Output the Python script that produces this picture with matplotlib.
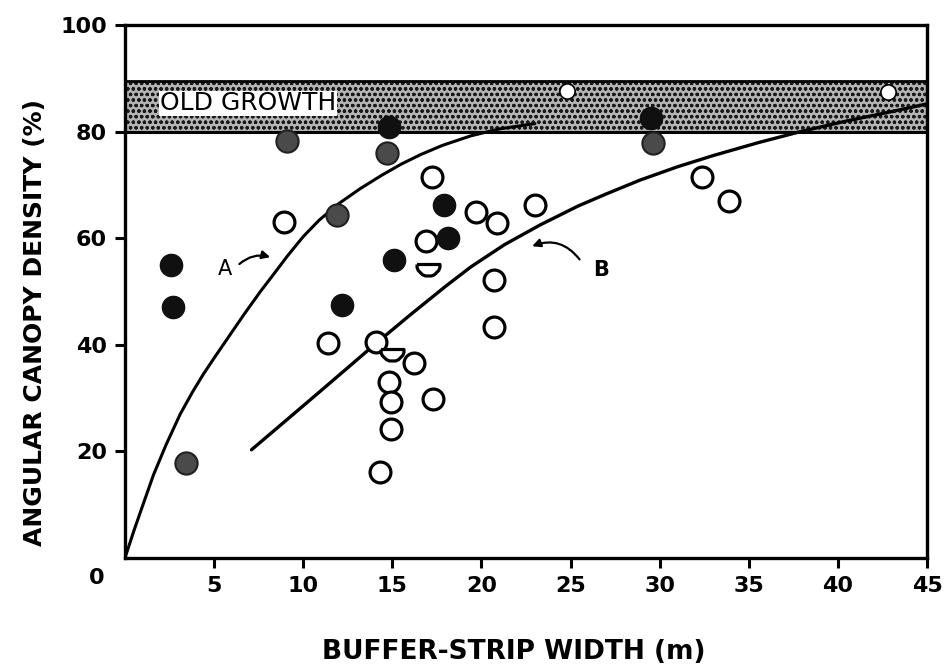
import matplotlib
matplotlib.use("Agg")
import matplotlib.pyplot as plt
from matplotlib.path import Path
import numpy as np

# ---- data ----
black_x = [2.6, 2.7, 12.2, 14.8, 15.1, 17.9, 18.1, 29.5]
black_y = [55.0, 47.1, 47.5, 80.9, 55.9, 66.2, 60.0, 82.6]

grey_x = [3.4, 9.1, 11.9, 14.7, 29.6]
grey_y = [17.8, 78.2, 64.3, 76.0, 77.9]

open_x = [8.9, 11.4, 14.1, 16.2, 14.8, 14.9, 14.9, 14.3, 17.3, 17.2, 19.7, 20.9,
          23.0, 16.9, 20.7, 20.7, 32.4, 33.9]
open_y = [63.0, 40.3, 40.5, 36.6, 33.0, 29.3, 24.2, 16.1, 29.8, 71.5, 64.9, 62.8,
          66.2, 59.5, 52.2, 43.3, 71.5, 67.0]

partial_x = [17.0, 15.0]
partial_y = [55.2, 39.2]

band_open_x = [24.8, 42.8]
band_open_y = [87.6, 87.4]

curveA_x = [0.0, 0.5, 1.0, 1.6, 2.3, 3.1, 3.8, 4.4, 5.1, 5.9, 6.7, 7.6, 8.4, 9.1,
            10.0, 10.9, 12.0, 13.2, 14.4, 15.5, 16.6, 17.8, 19.4, 21.0, 23.0]
curveA_y = [0.0, 5.1, 9.9, 15.6, 21.2, 27.0, 31.2, 34.5, 38.0, 41.9, 45.8, 50.0, 53.5, 56.6,
            60.3, 63.4, 66.5, 69.3, 71.8, 73.9, 75.7, 77.4, 79.2, 80.5, 81.5]

curveB_x = [7.1, 9.0, 11.0, 12.5, 14.1, 16.0, 18.0, 19.4, 21.3, 23.3, 25.4, 27.0, 28.9,
            31.0, 33.0, 35.5, 37.9, 40.5, 42.8, 45.0]
curveB_y = [20.3, 25.7, 31.4, 35.7, 40.3, 45.6, 51.0, 54.6, 58.8, 62.5, 66.0, 68.3, 70.9,
            73.4, 75.5, 77.9, 80.0, 82.0, 83.6, 85.2]

band_low, band_high = 80.0, 89.5

x_ticks = [5, 10, 15, 20, 25, 30, 35, 40, 45]
y_ticks = [20, 40, 60, 80, 100]

# ---- figure ----
plt.rcParams["hatch.linewidth"] = 0.9
fig = plt.figure(figsize=(9.44, 6.69), dpi=100)
ax = fig.add_axes([0.1324, 0.166, 0.8496, 0.7966])

ax.set_xlim(0, 45)
ax.set_ylim(0, 100)

# old-growth band
ax.axhspan(band_low, band_high, facecolor="#b4b4b4", edgecolor="#1a1a1a",
           hatch="ooo", linewidth=0, zorder=1)
ax.axhline(band_low, color="black", lw=2.2, zorder=2)
ax.axhline(band_high, color="black", lw=2.0, zorder=2)
ax.text(1.95, 85.3, "OLD GROWTH", fontsize=18, fontweight="normal", va="center",
        ha="left", zorder=3,
        bbox=dict(facecolor="white", edgecolor="none", pad=0.5))

# curves
ax.plot(curveA_x, curveA_y, color="black", lw=2.2, zorder=3,
        solid_capstyle="round", solid_joinstyle="round")
ax.plot(curveB_x, curveB_y, color="black", lw=2.4, zorder=3,
        solid_capstyle="round", solid_joinstyle="round")

# points
ms = 15
ax.plot(open_x, open_y, "o", ms=ms, mfc="white", mec="black", mew=2.3, zorder=4, ls="none")
half = Path.arc(180, 360)
half = Path(np.vstack([half.vertices, half.vertices[:1]]), None)
ax.plot(partial_x, partial_y, ls="none", marker=half, ms=ms * 1.1, mfc="white",
        mec="black", mew=2.3, zorder=4)
ax.plot(black_x, black_y, "o", ms=ms + 1, mfc="#101010", mec="#101010", mew=1, zorder=5, ls="none")
ax.plot(grey_x, grey_y, "o", ms=ms + 1, mfc="#4a4a4a", mec="#202020", mew=1.5, zorder=5, ls="none")
ax.plot(band_open_x, band_open_y, "o", ms=11, mfc="white", mec="black", mew=1.2, zorder=5, ls="none")

# curve labels with arrows
ax.annotate("", xy=(8.3, 56.3), xytext=(6.3, 54.8),
            arrowprops=dict(arrowstyle="-|>", color="black", lw=1.6,
                            connectionstyle="arc3,rad=-0.3", mutation_scale=12), zorder=6)
ax.text(5.6, 54.3, "A", fontsize=15, ha="center", va="center")
ax.annotate("", xy=(22.7, 58.3), xytext=(25.6, 55.6),
            arrowprops=dict(arrowstyle="-|>", color="black", lw=1.6,
                            connectionstyle="arc3,rad=0.4", mutation_scale=12), zorder=6)
ax.text(26.7, 54.0, "B", fontsize=15, fontweight="bold", ha="center", va="center")

# axes styling
for s in ax.spines.values():
    s.set_linewidth(2.4)
    s.set_color("black")

ax.set_xticks(x_ticks)
ax.set_xticklabels([str(t) for t in x_ticks])
ax.set_yticks(y_ticks)
ax.set_yticklabels([str(t) for t in y_ticks])
ax.tick_params(axis="both", direction="out", length=7, width=2.2, labelsize=16, pad=6)
for lab in ax.get_xticklabels() + ax.get_yticklabels():
    lab.set_fontweight("bold")

fig.text(97 / 944, 1 - 578 / 669, "0", fontsize=16, fontweight="bold", ha="center", va="center")

fig.text(514 / 944, 1 - 652 / 669, "BUFFER-STRIP WIDTH (m)", fontsize=19,
         fontweight="bold", ha="center", va="center")
fig.text(35 / 944, 1 - 322 / 669, "ANGULAR CANOPY DENSITY (%)", fontsize=18,
         fontweight="bold", ha="center", va="center", rotation=90)

fig.savefig("out.png", dpi=100, facecolor="white")
